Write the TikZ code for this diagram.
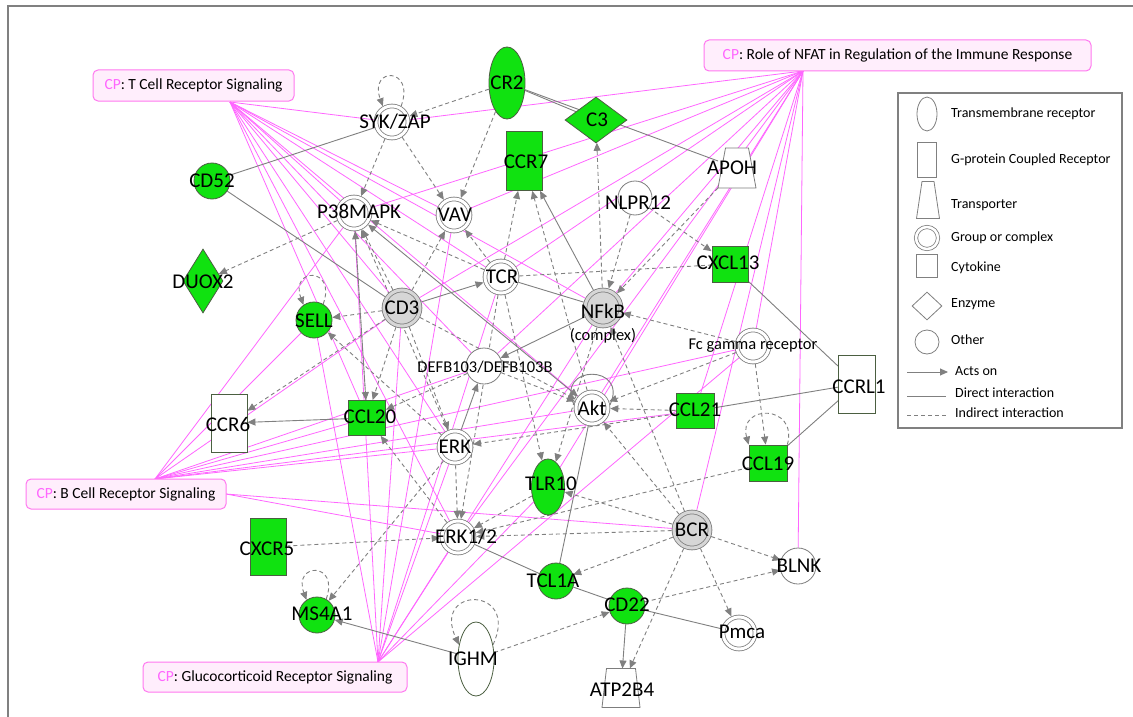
\documentclass[tikz,border=0pt]{standalone}
\usepackage{fontspec}
\setmainfont{Carlito}
\usetikzlibrary{shapes.geometric,arrows.meta}
\definecolor{ipagreen}{RGB}{16,226,16}
\definecolor{gline}{RGB}{128,128,128}
\definecolor{nline}{RGB}{125,125,125}
\definecolor{grline}{RGB}{75,95,65}
\definecolor{ltgray}{RGB}{214,214,214}
\definecolor{cppink}{RGB}{255,102,255}
\definecolor{cpfill}{RGB}{255,238,252}
\definecolor{cpborder}{RGB}{255,120,240}
\pgfdeclarelayer{back}
\pgfdeclarelayer{bg}
\pgfsetlayers{back,bg,main}
\tikzset{
  lbl/.style={font=\fontsize{21}{21}\selectfont, inner sep=0pt},
  slbl/.style={font=\fontsize{16.5}{17}\selectfont, inner sep=0pt},
  legt/.style={font=\fontsize{14}{14}\selectfont, inner sep=0pt, anchor=west},
  cptxt/.style={font=\fontsize{15.5}{16}\selectfont},
  ocirc/.style={circle, draw=nline, fill=white, line width=0.8pt, minimum size=36pt, inner sep=1pt},
  gcirc/.style={circle, draw=grline, fill=ipagreen, line width=0.8pt, minimum size=36pt, inner sep=1pt},
  dcirc/.style={circle, draw=nline, fill=white, line width=0.8pt, double=white, double distance=3pt, minimum size=32pt, inner sep=1pt, outer sep=2.3pt},
  dgcirc/.style={dcirc, fill=ltgray, double=ltgray, minimum size=36pt},
  grect/.style={rectangle, draw=grline, fill=ipagreen, line width=0.8pt, inner sep=1pt},
  wrect/.style={rectangle, draw=grline, fill=white, line width=0.8pt, inner sep=1pt},
  gdiam/.style={diamond, draw=grline, fill=ipagreen, line width=0.8pt, inner sep=1pt},
  gell/.style={ellipse, draw=grline, fill=ipagreen, line width=0.8pt, inner sep=1pt},
  well/.style={ellipse, draw=grline, fill=white, line width=0.8pt, inner sep=1pt},
  trapbox/.style={rectangle, draw=none, inner sep=0pt, outer sep=0pt},
  trapline/.style={draw=nline, fill=white, line width=0.8pt, line join=miter},
  cpbox/.style={rectangle, rounded corners=5pt, draw=cpborder, fill=cpfill, line width=1pt, inner sep=0pt, cptxt},
  pk/.style={draw=cppink, line width=0.8pt},
  sl/.style={draw=gline, line width=0.9pt},
  sa/.style={sl, -{Triangle[length=8pt,width=7pt]}},
  sab/.style={sl, {Triangle[length=8pt,width=7pt]}-{Triangle[length=8pt,width=7pt]}},
  dsh/.style={sl, dash pattern=on 4pt off 3pt},
  da/.style={dsh, -{Triangle[length=8pt,width=7pt]}},
  lgs/.style={draw=gline, line width=0.8pt, fill=white, inner sep=1pt},
}
\begin{document}
\begin{tikzpicture}[x=1pt,y=-1pt]
\useasboundingbox (0,0) rectangle (1133,717);
\begin{pgfonlayer}{back}
\fill[white] (0,0) rectangle (1133,717);
\end{pgfonlayer}
\draw[draw=gline, line width=1.5pt] (8,717) -- (8,6) -- (1133,6);

% ---------- nodes ----------
\node[gcirc] (cd52) at (212,181) {};
\node[dcirc] (sykzap) at (392,122) {};
\node[gell, minimum width=36pt, minimum height=72pt] (cr2) at (507,83) {};
\node[gdiam, minimum width=62pt, minimum height=46pt] (c3) at (596,120) {};
\node[grect, minimum width=36pt, minimum height=59pt] (ccr7) at (524,161) {};
\node[trapbox, minimum width=38pt, minimum height=40pt] (apoh) at (737,168) {};
\draw[trapline] (apoh.south west) -- ([xshift=7.5pt]apoh.north west) -- ([xshift=-7.5pt]apoh.north east) -- (apoh.south east) -- cycle;
\node[ocirc, minimum size=34pt] (nlpr12) at (635,198) {};
\node[dcirc] (vav) at (454,215) {};
\node[dcirc] (p38) at (354,213) {};
\node[gdiam, minimum width=40pt, minimum height=64pt] (duox2) at (203,281) {};
\node[gcirc] (sell) at (314,320) {};
\node[wrect, minimum width=36pt, minimum height=58pt] (ccr6) at (229,423) {};
\node[grect, minimum width=37pt, minimum height=35pt] (ccl20) at (367,418) {};
\node[dgcirc] (cd3) at (402,308) {};
\node[dcirc] (tcr) at (501,277) {};
\node[ocirc] (defb) at (484,366) {};
\node[dcirc] (erk) at (455,447) {};
\node[dgcirc] (nfkb) at (603,308) {};
\node[dcirc] (akt) at (592,408) {};
\node[grect, minimum width=38pt, minimum height=35pt] (ccl21) at (695,411) {};
\node[grect, minimum width=36pt, minimum height=36pt] (cxcl13) at (730,264) {};
\node[dcirc] (fcg) at (753,346) {};
\node[wrect, minimum width=37pt, minimum height=58pt] (ccrl1) at (857,384) {};
\node[grect, minimum width=38pt, minimum height=36pt] (ccl19) at (768,463) {};
\node[gell, minimum width=33pt, minimum height=56pt] (tlr10) at (548,487) {};
\node[dgcirc] (bcr) at (692,530) {};
\node[dcirc] (erk12) at (458,537) {};
\node[gcirc] (tcl1a) at (556,581) {};
\node[gcirc] (cd22) at (627,606) {};
\node[dcirc] (pmca) at (739,633) {};
\node[ocirc] (blnk) at (798,566) {};
\node[trapbox, minimum width=38pt, minimum height=39pt] (atp2b4) at (621,688) {};
\draw[trapline] (atp2b4.south west) -- ([xshift=4.5pt]atp2b4.north west) -- ([xshift=-4.5pt]atp2b4.north east) -- (atp2b4.south east) -- cycle;
\node[well, minimum width=36pt, minimum height=74pt] (ighm) at (476,659) {};
\node[gcirc] (ms4a1) at (317,615) {};
\node[grect, minimum width=36pt, minimum height=57pt] (cxcr5) at (268,547) {};

% ---------- labels ----------
\node[lbl] (cd52t) at (212,181) {CD52};
\node[lbl] (sykzapt) at (395,122) {SYK/ZAP};
\node[lbl] (cr2t) at (507,83) {CR2};
\node[lbl] (c3t) at (597,120) {C3};
\node[lbl] (ccr7t) at (526,162) {CCR7};
\node[lbl] (apoht) at (732,168) {APOH};
\node[lbl] (nlpr12t) at (638,203) {NLPR12};
\node[lbl] (vavt) at (455,215) {VAV};
\node[lbl] (p38t) at (359,211) {P38MAPK};
\node[lbl] (duox2t) at (203,282) {DUOX2};
\node[lbl] (sellt) at (314,321) {SELL};
\node[lbl] (ccr6t) at (228,424) {CCR6};
\node[lbl] (ccl20t) at (370,417) {CCL20};
\node[lbl] (cd3t) at (402,308) {CD3};
\node[lbl] (tcrt) at (502,277) {TCR};
\node[slbl] (defbt) at (485,367) {DEFB103/DEFB103B};
\node[lbl] (erkt) at (455,447) {ERK};
\node[lbl] (nfkbt) at (603,311) {NFkB};
\node[slbl] (cplxt) at (603,336) {(complex)};
\node[lbl] (aktt) at (592,408) {Akt};
\node[lbl] (ccl21t) at (695,410) {CCL21};
\node[lbl] (cxcl13t) at (728,263) {CXCL13};
\node[slbl] (fcgt) at (753,346) {Fc gamma receptor};
\node[lbl] (ccrl1t) at (859,387) {CCRL1};
\node[lbl] (ccl19t) at (768,464) {CCL19};
\node[lbl] (tlr10t) at (551,484) {TLR10};
\node[lbl] (bcrt) at (692,530) {BCR};
\node[lbl] (erk12t) at (466,537) {ERK1/2};
\node[lbl] (tcl1at) at (553,581) {TCL1A};
\node[lbl] (cd22t) at (627,605) {CD22};
\node[lbl] (pmcat) at (742,632) {Pmca};
\node[lbl] (blnkt) at (799,566) {BLNK};
\node[lbl] (atp2b4t) at (622,690) {ATP2B4};
\node[lbl] (ighmt) at (473,659) {IGHM};
\node[lbl] (ms4a1t) at (322,614) {MS4A1};
\node[lbl] (cxcr5t) at (267,549) {CXCR5};

% ---------- CP boxes ----------
\node[cpbox, minimum width=201pt, minimum height=31pt] (tcell) at (193.5,85.5) {\textcolor{cppink}{CP}: T Cell Receptor Signaling};
\node[cpbox, minimum width=387pt, minimum height=31pt] (nfat) at (897.5,55.5) {\textcolor{cppink}{CP}: Role of NFAT in Regulation of the Immune Response};
\node[cpbox, minimum width=200pt, minimum height=30pt] (bcell) at (126,494) {\textcolor{cppink}{CP}: B Cell Receptor Signaling};
\node[cpbox, minimum width=264pt, minimum height=30pt] (gluco) at (275,677) {\textcolor{cppink}{CP}: Glucocorticoid Receptor Signaling};
\coordinate (tcp) at (230,102);
\coordinate (nfp) at (803,71);
\coordinate (bcp) at (155,479);
\coordinate (bcq) at (226,494);
\coordinate (gcp) at (378,662);

% ---------- legend ----------
\node[draw=gline, line width=1.2pt, fill=white, minimum width=224pt, minimum height=335pt, inner sep=0pt] (legend) at (1010,260.5) {};
\node[lgs, ellipse, minimum width=20pt, minimum height=34pt] (lg1) at (927,114) {};
\node[legt] (lg1t) at (951,114) {Transmembrane receptor};
\node[lgs, rectangle, minimum width=19pt, minimum height=35pt] (lg2) at (927,160) {};
\node[legt] (lg2t) at (951,160) {G-protein Coupled Receptor};
\node[trapbox, minimum width=23pt, minimum height=37pt] (lg3) at (928,200) {};
\draw[trapline, draw=gline] (lg3.south west) -- ([xshift=5.5pt]lg3.north west) -- ([xshift=-5.5pt]lg3.north east) -- (lg3.south east) -- cycle;
\node[legt] (lg3t) at (951,205) {Transporter};
\node[lgs, circle, double=white, double distance=2.5pt, minimum size=22pt] (lg4) at (927,238) {};
\node[legt] (lg4t) at (951,238) {Group or complex};
\node[lgs, rectangle, minimum width=21pt, minimum height=23pt] (lg5) at (927,266) {};
\node[legt] (lg5t) at (951,268) {Cytokine};
\node[lgs, diamond, minimum width=30pt, minimum height=28pt] (lg6) at (927,306) {};
\node[legt] (lg6t) at (951,304) {Enzyme};
\node[lgs, circle, minimum size=24pt] (lg7) at (927,342) {};
\node[legt] (lg7t) at (951,340) {Other};
\coordinate (la1) at (907,372); \coordinate (la2) at (948,372);
\coordinate (lb1) at (907,396); \coordinate (lb2) at (946,396);
\coordinate (lc1) at (907,415); \coordinate (lc2) at (946,415);
\draw[sa] (la1) -- (la2);
\draw[sl] (lb1) -- (lb2);
\draw[dsh] (lc1) -- (lc2);
\node[legt] (lg8t) at (955,371) {Acts on};
\node[legt] (lg9t) at (955,393) {Direct interaction};
\node[legt] (lg10t) at (955,413) {Indirect interaction};

% ---------- connectors ----------
\begin{pgfonlayer}{bg}
\foreach \t in {sykzap,p38,vav,tcr,nfkb,cd3,defb,akt,erk,erk12,ccl20}
  \draw[pk] (tcp) -- (\t);
\foreach \t in {sykzap,p38,vav,cd3,tcr,defb,nfkb,akt,erk12,tlr10,ccl21,fcg,bcr,blnk}
  \draw[pk] (nfp) -- (\t);
\foreach \t in {p38,sell,cd3,ccl20,defb,akt,fcg,ccl21,erk}
  \draw[pk] (bcp) -- (\t);
\foreach \t in {bcr,erk12}
  \draw[pk] (bcq) -- (\t);
\foreach \t in {sell,p38,cd3,vav,tcr,erk,erk12,nfkb,tlr10,fcg}
  \draw[pk] (gcp) -- (\t);
\draw[sl] (cd52) -- (sykzap);
\draw[sl] (cd52) -- (cd3);
\draw[sl] (cr2) -- (c3);
\draw[sl] (cr2) -- (apoh);
\draw[sl] (tcr) -- (nfkb);
\draw[sl] (ccl21) -- (ccrl1);
\draw[sl] (cxcl13) -- (ccrl1);
\draw[sl] (ccl19) -- (ccrl1);
\draw[sl] (erk12) -- (tcl1a);
\draw[sl] (tcl1a) -- (cd22);
\draw[sl] (cd22) -- (pmca);
\draw[sl] (akt) -- (tcl1a);
\draw[sa] (nfkb) -- (ccr7);
\draw[sa] (cd3) -- (tcr);
\draw[sa] (nfkb) -- (defb);
\draw[sa] (erk) -- (defb);
\draw[sab] (p38) -- (akt);
\draw[sa] (ccl20) -- (ccr6);
\draw[sa] (cd22) -- (atp2b4);
\draw[sa] (ighm) -- (ms4a1);
\draw[sl] (akt.10) .. controls +(-65:45) and +(-115:45) .. (akt.170);
\draw[da] (sykzap.60) .. controls +(-70:42) and +(-110:42) .. (sykzap.120);
\draw[da] (sell.60) .. controls +(-70:40) and +(-110:40) .. (sell.125);
\draw[da] (ccl19.north east) .. controls +(-75:42) and +(-105:42) .. (ccl19.north west);
\draw[da] (ighm.40) .. controls +(-65:65) and +(-115:65) .. (ighm.140);
\draw[da] (ms4a1.60) .. controls +(-70:40) and +(-110:40) .. (ms4a1.125);
\draw[da] (cr2) -- (sykzap);
\draw[da] (cr2) -- (vav);
\draw[da] (sykzap) -- (p38);
\draw[da] (sykzap) -- (vav);
\draw[da] (nfkb) -- (c3);
\draw[da] (tcr) -- (ccr7);
\draw[da] (akt) -- (ccr7);
\draw[da] (p38) -- (duox2);
\draw[da] (cd3) -- (sell);
\draw[da] (erk) -- (sell);
\draw[da] (cd3) -- (ccr6);
\draw[da] (p38) -- (ccl20);
\draw[da] (cd3) -- (ccl20);
\draw[da] (cd3) -- (p38);
\draw[da] (tcr) -- (p38);
\draw[da] (erk) -- (p38);
\draw[da] (ccl20) -- (p38);
\draw[da] (tcr) -- (vav);
\draw[da] (cd3) -- (vav);
\draw[da] (nlpr12) -- (nfkb);
\draw[da] (nlpr12) -- (cxcl13);
\draw[dsh] (tcr) -- (cxcl13);
\draw[da] (apoh) -- (nfkb);
\draw[da] (fcg) -- (nfkb);
\draw[da] (fcg) -- (ccl19);
\draw[da] (ccl21) -- (akt);
\draw[da] (ccl21) -- (erk);
\draw[da] (fcg) -- (akt);
\draw[da] (bcr) -- (akt);
\draw[da] (bcr) -- (tlr10);
\draw[da] (bcr) -- (erk12);
\draw[da] (bcr) -- (tcl1a);
\draw[da] (bcr) -- (blnk);
\draw[da] (bcr) -- (pmca);
\draw[da] (bcr) -- (atp2b4);
\draw[da] (bcr) -- (nfkb);
\draw[da] (cd22) -- (blnk);
\draw[da] (ighm) -- (cd22);
\draw[da] (cxcr5) -- (erk12);
\draw[da] (erk) -- (ms4a1);
\draw[da] (cd3) -- (erk);
\draw[da] (erk) -- (erk12);
\draw[da] (tcr) -- (tlr10);
\draw[da] (tlr10) -- (erk12);
\draw[da] (defb) -- (ccl20);
\draw[da] (erk12) -- (ccl20);
\draw[da] (cd3) -- (akt);
\draw[da] (ccl19) -- (erk12);
\draw[da] (nfkb) -- (tlr10);
\draw[da] (tcr) -- (erk12);
\draw[da] (defb) -- (akt);
\end{pgfonlayer}
\end{tikzpicture}
\end{document}
